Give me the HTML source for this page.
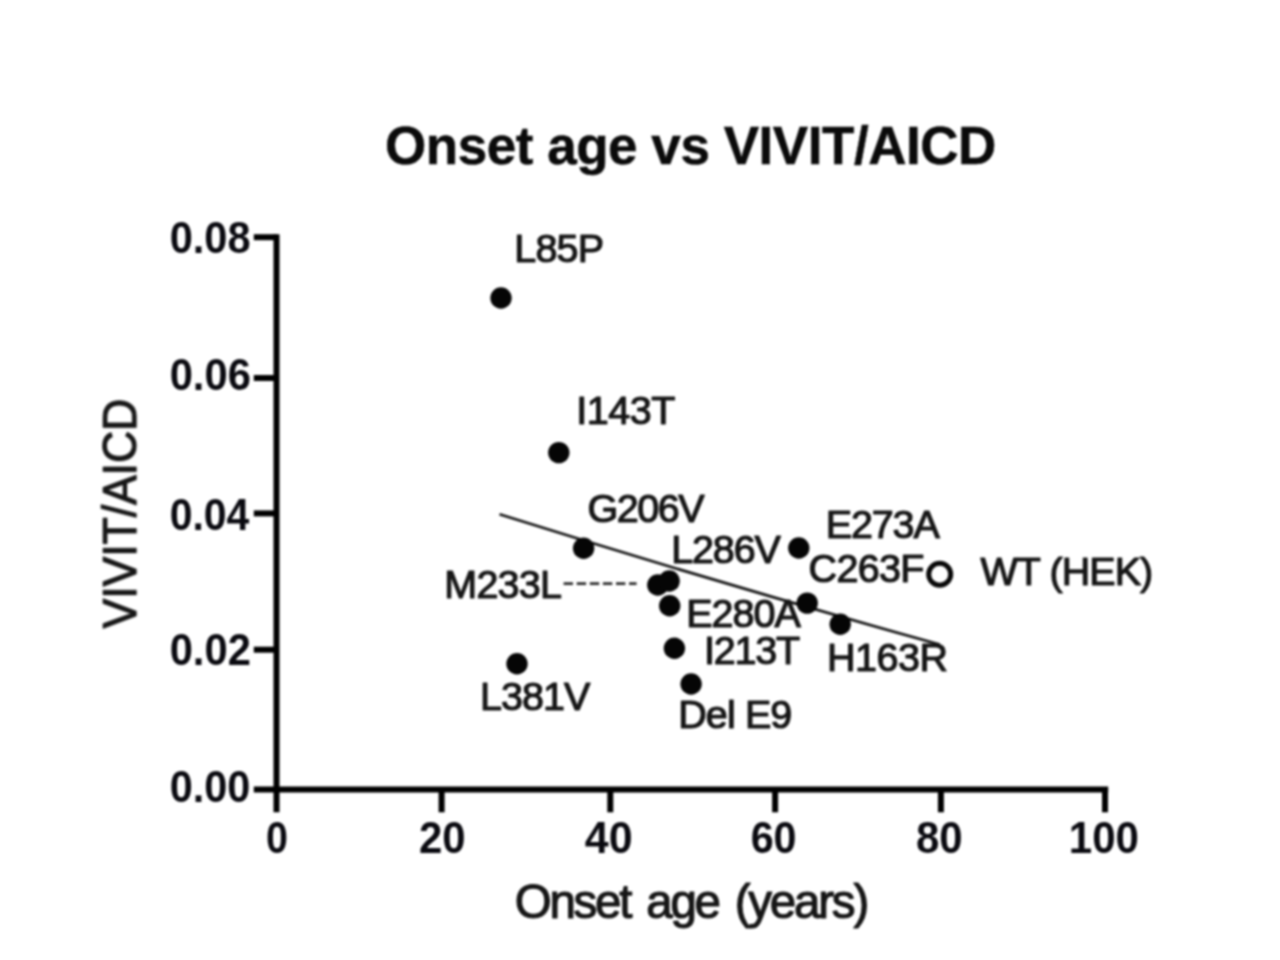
<!DOCTYPE html>
<html lang="en">
<head>
<meta charset="utf-8">
<title>Onset age vs VIVIT/AICD</title>
<style>
  html, body { margin: 0; padding: 0; background: #ffffff; }
  body { width: 1280px; height: 960px; overflow: hidden; position: relative; }
  svg { position: absolute; left: 0; top: 0; display: block; }
  text { font-family: "Liberation Sans", sans-serif; fill: #141414; }
  .title { font-weight: bold; font-size: 53px; fill: #0a0a0a; stroke: #0a0a0a; stroke-width: 0.5px; }
  .tick  { font-weight: bold; font-size: 44px; fill: #0a0a10; }
  .axl   { font-size: 48.5px; fill: #161616; stroke: #161616; stroke-width: 1.2px; stroke-linejoin: round; }
  .lab   { font-size: 39.5px; fill: #161616; stroke: #161616; stroke-width: 1.2px; stroke-linejoin: round; }
  #chart { filter: blur(0.8px); }
  .ax    { stroke: #000; stroke-width: 6; fill: none; stroke-linecap: butt; }
  .dot   { fill: #050505; }
</style>
</head>
<body>
<svg width="1280" height="960" viewBox="0 0 1280 960">
  <rect x="0" y="0" width="1280" height="960" fill="#ffffff"/>
  <g id="chart">
  <!-- axes -->
  <g class="ax">
    <line x1="276.5" y1="234.2" x2="276.5" y2="812.3"/>
    <line x1="253.8" y1="789.6" x2="1108.2" y2="789.6"/>
    <line x1="253.8" y1="237.2" x2="276.5" y2="237.2"/>
    <line x1="253.8" y1="378.0" x2="276.5" y2="378.0"/>
    <line x1="253.8" y1="513.4" x2="276.5" y2="513.4"/>
    <line x1="253.8" y1="649.7" x2="276.5" y2="649.7"/>
    <line x1="441.6" y1="789.6" x2="441.6" y2="812.3"/>
    <line x1="610.3" y1="789.6" x2="610.3" y2="812.3"/>
    <line x1="775.1" y1="789.6" x2="775.1" y2="812.3"/>
    <line x1="940.9" y1="789.6" x2="940.9" y2="812.3"/>
    <line x1="1105.0" y1="789.6" x2="1105.0" y2="812.3"/>
  </g>
  <!-- regression line and leader -->
  <path d="M499.5 514.3 Q719.6 583.4 939.8 644.6" fill="none" stroke="#161616" stroke-width="2.7"/>
  <line x1="563.6" y1="583.6" x2="636.6" y2="583.6" stroke="#2c2c2c" stroke-width="2.9" stroke-dasharray="9.4 3.7"/>
  <!-- data points -->
  <g class="dot">
    <circle cx="501.0" cy="298.0" r="10.7"/>
    <circle cx="558.8" cy="452.6" r="10.7"/>
    <circle cx="583.6" cy="548.2" r="10.7"/>
    <circle cx="657.8" cy="585.0" r="10.7"/>
    <circle cx="669.2" cy="581.0" r="10.7"/>
    <circle cx="669.7" cy="605.8" r="10.7"/>
    <circle cx="674.4" cy="648.3" r="10.7"/>
    <circle cx="691.1" cy="684.0" r="10.7"/>
    <circle cx="517.0" cy="663.8" r="10.7"/>
    <circle cx="798.8" cy="548.0" r="10.7"/>
    <circle cx="807.2" cy="603.1" r="10.7"/>
    <circle cx="840.2" cy="624.2" r="10.7"/>
  </g>
  <circle cx="939.7" cy="574.2" r="11" fill="#ffffff" stroke="#080808" stroke-width="5"/>
  <!-- text -->
  <text class="title" x="385.00" y="164.40" textLength="611.32" lengthAdjust="spacing">Onset age vs VIVIT/AICD</text>
  <text class="axl" word-spacing="5" transform="translate(514.65 917.80) scale(0.98 1)" textLength="361.81" lengthAdjust="spacing">Onset age (years)</text>
  <text class="axl" transform="translate(136.20 628.35) rotate(-90) scale(0.92 1)" textLength="249.62" lengthAdjust="spacing">VIVIT/AICD</text>
  <text class="tick" x="169.65" y="253.10" textLength="80.97" lengthAdjust="spacingAndGlyphs">0.08</text>
  <text class="tick" x="169.65" y="390.30" textLength="81.22" lengthAdjust="spacingAndGlyphs">0.06</text>
  <text class="tick" x="169.65" y="529.60" textLength="79.76" lengthAdjust="spacingAndGlyphs">0.04</text>
  <text class="tick" x="169.65" y="665.40" textLength="81.22" lengthAdjust="spacingAndGlyphs">0.02</text>
  <text class="tick" x="169.65" y="802.20" textLength="80.73" lengthAdjust="spacingAndGlyphs">0.00</text>
  <text class="tick" x="265.95" y="852.70" textLength="21.95" lengthAdjust="spacingAndGlyphs">0</text>
  <text class="tick" x="419.05" y="852.70" textLength="46.64" lengthAdjust="spacingAndGlyphs">20</text>
  <text class="tick" x="584.80" y="852.70" textLength="47.90" lengthAdjust="spacingAndGlyphs">40</text>
  <text class="tick" x="750.65" y="852.70" textLength="45.94" lengthAdjust="spacingAndGlyphs">60</text>
  <text class="tick" x="915.90" y="852.70" textLength="46.76" lengthAdjust="spacingAndGlyphs">80</text>
  <text class="tick" x="1068.75" y="852.70" textLength="70.23" lengthAdjust="spacingAndGlyphs">100</text>
  <text class="lab" x="514.25" y="262.30" textLength="89.77" lengthAdjust="spacing">L85P</text>
  <text class="lab" x="576.30" y="424.20" textLength="99.12" lengthAdjust="spacing">I143T</text>
  <text class="lab" x="587.40" y="521.50" textLength="117.13" lengthAdjust="spacing">G206V</text>
  <text class="lab" x="444.25" y="597.80" textLength="117.68" lengthAdjust="spacing">M233L</text>
  <text class="lab" x="671.20" y="562.80" textLength="109.67" lengthAdjust="spacing">L286V</text>
  <text class="lab" x="825.65" y="537.80" textLength="114.11" lengthAdjust="spacing">E273A</text>
  <text class="lab" x="808.50" y="581.50" textLength="116.01" lengthAdjust="spacing">C263F</text>
  <text class="lab" x="686.20" y="627.30" textLength="114.56" lengthAdjust="spacing">E280A</text>
  <text class="lab" x="704.00" y="664.30" textLength="96.12" lengthAdjust="spacing">I213T</text>
  <text class="lab" x="826.95" y="670.80" textLength="121.17" lengthAdjust="spacing">H163R</text>
  <text class="lab" x="678.25" y="727.80" textLength="114.06" lengthAdjust="spacing">Del E9</text>
  <text class="lab" x="479.95" y="709.50" textLength="110.42" lengthAdjust="spacing">L381V</text>
  <text class="lab" x="980.50" y="584.60" textLength="172.75" lengthAdjust="spacing">WT (HEK)</text>
  </g>
</svg>
</body>
</html>
